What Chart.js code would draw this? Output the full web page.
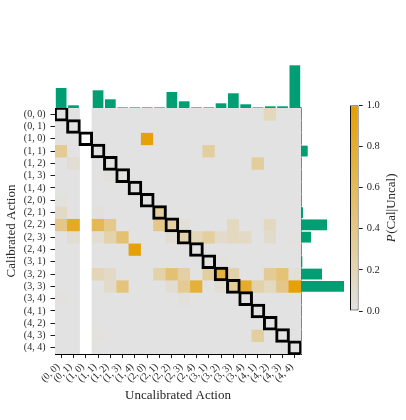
<!DOCTYPE html>
<html><head><meta charset="utf-8">
<script src="https://cdn.jsdelivr.net/npm/chart.js@4.4.1/dist/chart.umd.min.js"></script>
<style>
html,body{margin:0;padding:0;background:#fff;}
#wrap{position:relative;width:406px;height:420px;overflow:hidden;background:#fff;}
canvas{position:absolute;}
</style></head><body>
<div id="wrap">
<canvas id="heat" width="406" height="420" style="left:0;top:0;width:406px;height:420px"></canvas>
<canvas id="topbars" width="246" height="48" style="left:55px;top:60px;width:246px;height:48px"></canvas>
<canvas id="rightbars" width="48" height="246" style="left:301px;top:108px;width:48px;height:246px"></canvas>
<canvas id="cbar" width="66" height="230" style="left:340px;top:95px;width:66px;height:230px"></canvas>
</div>
<script>
// ---------- DATA ----------
const actionLabels = ['(0, 0)','(0, 1)','(1, 0)','(1, 1)','(1, 2)','(1, 3)','(1, 4)','(2, 0)','(2, 1)','(2, 2)',
                      '(2, 3)','(2, 4)','(3, 1)','(3, 2)','(3, 3)','(3, 4)','(4, 1)','(4, 2)','(4, 3)','(4, 4)'];
// P(Cal | Uncal): rows = calibrated action, columns = uncalibrated action (null = no data)
const pCalGivenUncal = [
 [0,0,null,0,0,0,0,0,0,0,0,0,0,0,0,0,0,0.17,0,0],
 [0,0,null,0,0,0,0,0,0,0,0,0,0,0,0,0,0,0,0,0],
 [0,0,null,0,0,0,0,0.97,0,0,0,0,0,0,0,0,0,0,0,0],
 [0.35,0,null,0,0,0,0,0,0,0,0,0,0.3,0,0,0,0,0,0,0],
 [0,0.07,null,0,0,0,0,0,0,0,0,0,0,0,0,0,0.32,0,0,0],
 [0,0,null,0,0.03,0,0,0,0,0,0,0,0,0,0,0,0,0,0,0],
 [0,0,null,0,0,0,0,0,0,0,0,0,0,0,0,0,0,0,0,0],
 [0.02,0,null,0,0,0,0,0,0,0,0,0,0,0,0,0,0,0,0,0],
 [0.12,0,null,0.03,0,0,0,0,0.3,0,0,0,0,0,0,0,0,0,0,0],
 [0.4,0.85,null,0.62,0.38,0,0,0,0.4,0.28,0.05,0,0,0,0.15,0,0,0.15,0,0],
 [0,0.07,null,0.06,0.24,0.5,0,0,0,0.07,0.25,0.18,0.3,0.1,0.15,0.12,0,0.1,0,0.02],
 [0,0,null,0,0,0,0.97,0,0,0,0,0,0,0,0,0,0,0,0,0],
 [0,0,null,0,0,0,0,0,0,0,0,0,0,0.02,0,0,0,0,0,0],
 [0,0,null,0.2,0.12,0,0,0,0.25,0.5,0.28,0,0.3,0.72,0.25,0,0,0.35,0.48,0.05],
 [0,0,null,0,0.1,0.45,0,0,0,0.08,0.35,0.75,0,0.06,0.33,0.82,0.25,0.15,0.4,0.97],
 [0.02,0,null,0,0,0,0,0,0,0,0.03,0,0,0,0,0,0,0,0,0],
 [0,0,null,0,0,0,0,0,0,0,0,0,0,0,0,0,0,0,0,0],
 [0,0,null,0,0,0,0,0,0,0,0,0,0,0,0,0,0,0,0,0],
 [0,0,null,0.02,0,0,0,0,0,0,0,0,0,0,0,0,0.3,0,0,0],
 [0,0,null,0,0,0,0,0,0,0,0,0,0,0,0,0,0,0,0,0]
];
// marginal counts (relative) of uncalibrated actions (top) and calibrated actions (right)
const uncalMarginal = [20,2.7,0,17.7,8.7,0.6,0.6,0.6,0.6,16,6.7,0.6,0.6,4.7,14.7,3.7,0.6,1.7,1.7,42.7];
const calMarginal   = [0.6,0.6,0.6,6.7,0.6,0.6,0.6,0.6,2,26,10,0.6,1.3,21,43,0.6,0.6,0.6,0.6,0.6];
const colorbarTicks = [0,0.2,0.4,0.6,0.8,1.0];

// ---------- STYLE ----------
Chart.defaults.font.family = "'Liberation Serif', 'DejaVu Serif', serif";
Chart.defaults.color = '#262626';
const LOW = [226,226,226], HIGH = [230,159,0];
const TEAL = '#009E73';
function cmap(v){
  const t = Math.max(0, Math.min(1, v));
  const c = LOW.map((l,i)=>Math.round(l + (HIGH[i]-l)*t));
  return `rgb(${c[0]},${c[1]},${c[2]})`;
}
const N = actionLabels.length;
const colHasData = actionLabels.map((_,c)=>pCalGivenUncal.some(row=>row[c]!==null));
const commonOpts = {responsive:false, animation:false, plugins:{legend:{display:false}, tooltip:{enabled:false}}};

// ---------- HEATMAP ----------
const heatDatasets = [];
heatDatasets.push({ // diagonal outlines
  data: actionLabels.map((_,i)=>[i,i+1]),
  backgroundColor:'rgba(0,0,0,0)', borderColor:'#000', borderWidth:0.7,
  borderSkipped:false, inflateAmount:1.15, order:0
});
pCalGivenUncal.forEach((row,r)=>{
  heatDatasets.push({
    data: row.map(v=> v===null ? null : [r,r+1]),
    backgroundColor: row.map(v=> v===null ? 'rgba(0,0,0,0)' : cmap(v)),
    borderWidth:0, inflateAmount:0.2, order:1
  });
});
heatDatasets.push({ // base layer (value 0 colour) for columns with data
  data: colHasData.map(h=> h ? [0,N] : null),
  backgroundColor: cmap(0), borderWidth:0, inflateAmount:0, order:2
});

new Chart(document.getElementById('heat'), {
  type:'bar',
  data:{labels:actionLabels, datasets:heatDatasets},
  options:{...commonOpts,
    layout:{padding:{top:108,right:105,left:0,bottom:0}},
    datasets:{bar:{barPercentage:1, categoryPercentage:1, grouped:false}},
    scales:{
      x:{type:'category', position:'bottom', offset:true,
        grid:{display:true, offset:false, drawOnChartArea:false, drawTicks:true, tickLength:4, tickColor:'#000', tickWidth:0.9},
        border:{display:true, color:'#000', width:1},
        ticks:{font:{size:10}, minRotation:45, maxRotation:45, autoSkip:false, padding:3, labelOffset:-3},
        title:{display:true, text:'Uncalibrated Action', font:{size:13}, padding:{top:0,bottom:17}},
        afterFit:s=>{s.height=66;}
      },
      y:{type:'linear', position:'left', min:0, max:N, reverse:true,
        afterBuildTicks:s=>{ s.ticks = actionLabels.map((_,i)=>({value:i+0.5})); },
        ticks:{font:{size:10}, padding:5, autoSkip:false, callback:v=>actionLabels[Math.floor(v)]},
        grid:{display:true, drawOnChartArea:false, drawTicks:true, tickLength:4.5, tickColor:'#000', tickWidth:0.9},
        border:{display:true, color:'#000', width:1},
        title:{display:true, text:'Calibrated Action', font:{size:13}, padding:{top:4,bottom:0}},
        afterFit:s=>{s.width=55;}
      },
      y2:{type:'linear', position:'right', min:0, max:N, display:true,
        ticks:{display:false}, grid:{display:false, drawTicks:false},
        border:{display:true, color:'#555', width:1.5},
        afterFit:s=>{s.width=0;}
      }
    }
  }
});

// ---------- TOP MARGINAL ----------
new Chart(document.getElementById('topbars'), {
  type:'bar',
  data:{labels:actionLabels, datasets:[{data:uncalMarginal, backgroundColor:TEAL, borderWidth:0}]},
  options:{...commonOpts,
    layout:{padding:0},
    datasets:{bar:{barPercentage:0.87, categoryPercentage:1}},
    scales:{x:{display:false}, y:{display:false, min:0, max:48}}
  }
});

// ---------- RIGHT MARGINAL ----------
new Chart(document.getElementById('rightbars'), {
  type:'bar',
  data:{labels:actionLabels, datasets:[{data:calMarginal, backgroundColor:TEAL, borderWidth:0}]},
  options:{...commonOpts, indexAxis:'y',
    layout:{padding:0},
    datasets:{bar:{barPercentage:0.88, categoryPercentage:1}},
    scales:{y:{display:false}, x:{display:false, min:0, max:48}}
  }
});

// ---------- COLORBAR ----------
const cbarTitle = {
  id:'cbarTitle',
  afterDraw(chart){
    const c = chart.ctx, a = chart.chartArea;
    const fam = Chart.defaults.font.family;
    c.save();
    c.translate(chart.width-14, (a.top+a.bottom)/2);
    c.rotate(-Math.PI/2);
    c.fillStyle = '#262626';
    c.textBaseline = 'middle';
    const p1 = 'P', p2 = '(Cal|Uncal)';
    c.font = `italic 13px ${fam}`; const w1 = c.measureText(p1).width;
    c.font = `13px ${fam}`; const w2 = c.measureText(p2).width;
    let x = -(w1+w2)/2;
    c.textAlign = 'left';
    c.font = `italic 13px ${fam}`; c.fillText(p1, x, 0);
    c.font = `13px ${fam}`; c.fillText(p2, x+w1+0.5, 0);
    c.restore();
  }
};
new Chart(document.getElementById('cbar'), {
  type:'bar',
  data:{labels:[''], datasets:[{data:[[0,1]],
    backgroundColor:(ctx)=>{
      const a = ctx.chart.chartArea;
      if(!a) return cmap(0.5);
      const g = ctx.chart.ctx.createLinearGradient(0,a.bottom,0,a.top);
      g.addColorStop(0,cmap(0)); g.addColorStop(1,cmap(1));
      return g;
    },
    borderColor:'#111', borderWidth:1, borderSkipped:false, inflateAmount:0}]},
  options:{...commonOpts,
    layout:{padding:{left:10,top:10,bottom:14,right:0}},
    datasets:{bar:{barPercentage:1, categoryPercentage:1}},
    scales:{
      x:{display:false},
      y:{position:'right', min:0, max:1,
        afterBuildTicks:s=>{ s.ticks = colorbarTicks.map(v=>({value:v})); },
        ticks:{font:{size:10.5}, padding:4, callback:v=>v.toFixed(1)},
        grid:{display:true, drawOnChartArea:false, drawTicks:true, tickLength:4, tickColor:'#000', tickWidth:0.9},
        border:{display:false},
        afterFit:s=>{s.width=47.3;}
      }
    }
  },
  plugins:[cbarTitle]
});
</script>
</body></html>
